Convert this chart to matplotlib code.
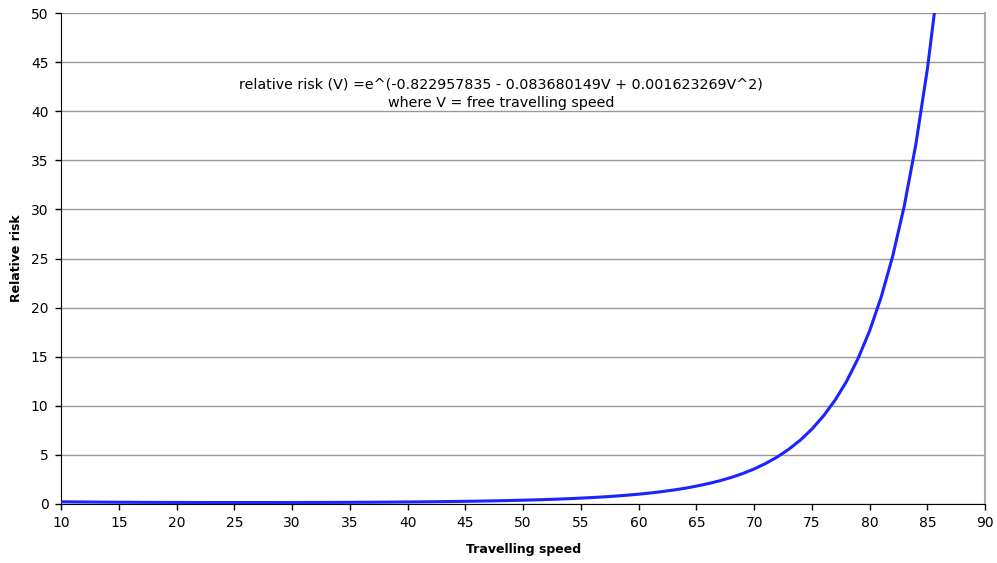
import matplotlib
matplotlib.use('Agg')
import matplotlib.pyplot as plt

# free travelling speed and relative risk
speed = list(range(10, 87))
risk = [
    0.224, 0.214, 0.205, 0.196, 0.188, 0.180, 0.175, 0.169, 0.165, 0.161,
    0.158, 0.155, 0.153, 0.151, 0.150, 0.149, 0.149, 0.149, 0.150, 0.152,
    0.154, 0.156, 0.159, 0.163, 0.167, 0.171, 0.177, 0.183, 0.190, 0.198,
    0.207, 0.218, 0.229, 0.242, 0.256, 0.272, 0.290, 0.310, 0.333, 0.359,
    0.387, 0.420, 0.456, 0.497, 0.544, 0.598, 0.658, 0.727, 0.806, 0.896,
    1.00, 1.12, 1.26, 1.42, 1.60, 1.82, 2.07, 2.36, 2.70, 3.10,
    3.57, 4.13, 4.79, 5.58, 6.51, 7.63, 8.97, 10.57, 12.50, 14.84,
    17.66, 21.10, 25.28, 30.40, 36.67, 44.36, 53.84,
]

x_ticks = list(range(10, 91, 5))
y_ticks = list(range(0, 51, 5))

fig = plt.figure(figsize=(9.97, 5.63), dpi=100)
ax = fig.add_axes([0.0612, 0.1048, 0.927, 0.872])

# horizontal gridlines only
for y in y_ticks:
    ax.axhline(y, color='#999999', linewidth=1, zorder=1)

ax.plot(speed, risk, color='#1a24ff', linewidth=2.2, zorder=3, clip_on=True)

ax.set_xlim(10, 90)
ax.set_ylim(0, 50)
ax.set_xticks(x_ticks)
ax.set_yticks(y_ticks)
ax.tick_params(axis='both', direction='out', length=4, width=1,
               labelsize=10, colors='black', pad=5)

ax.spines['top'].set_visible(False)
ax.spines['right'].set_color('#aaaaaa')
ax.spines['right'].set_linewidth(1.5)
ax.spines['left'].set_color('black')
ax.spines['bottom'].set_color('black')

ax.set_xlabel('Travelling speed', fontsize=9, fontweight='bold', labelpad=9)
ax.set_ylabel('Relative risk', fontsize=9, fontweight='bold', labelpad=6)

ax.text(501 / 997, 1 - 85 / 563,
        'relative risk (V) =e^(-0.822957835 - 0.083680149V + 0.001623269V^2)',
        transform=fig.transFigure, ha='center', va='center', fontsize=10.3)
ax.text(501 / 997, 1 - 103 / 563, 'where V = free travelling speed',
        transform=fig.transFigure, ha='center', va='center', fontsize=10.3)

fig.savefig('out.png', dpi=100)
